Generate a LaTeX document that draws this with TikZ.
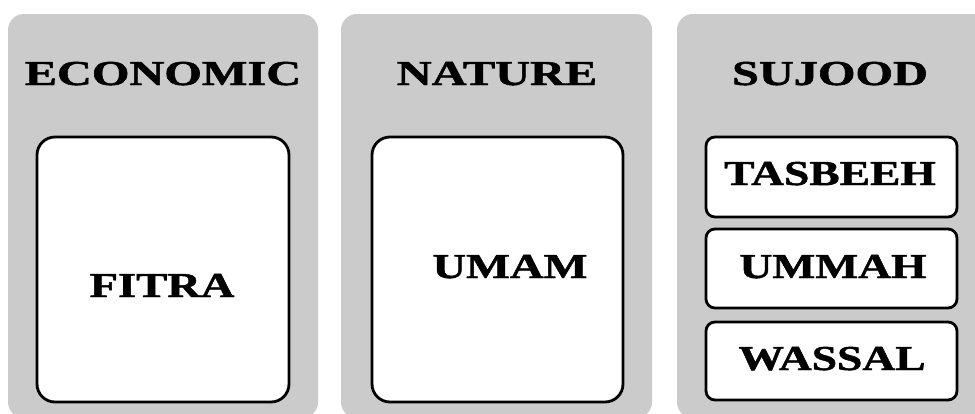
\documentclass[tikz,border=0pt]{standalone}
\usepackage{fontspec}
\setmainfont{Liberation Serif}[BoldFeatures={FakeBold=1.2}]
\definecolor{panelgrey}{HTML}{CBCBCB}
\newcommand{\stretchtxt}[2]{\scalebox{#1}[1]{#2}}
\begin{document}
\begin{tikzpicture}[x=1pt,y=-1pt,
  panel/.style={fill=panelgrey, draw=none, rounded corners=16pt},
  card/.style={fill=white, draw=black, line width=2.8pt, rounded corners=18pt},
  smallcard/.style={fill=white, draw=black, line width=2.8pt, rounded corners=9pt},
  lbl/.style={font=\fontsize{35}{40}\selectfont\bfseries, anchor=base, inner sep=0pt, text=black}]
\useasboundingbox (0,0) rectangle (975,413);
\clip (0,0) rectangle (975,413);
% panels
\fill[panel] (8,14) rectangle (318,418);
\fill[panel] (341,14) rectangle (652,418);
\fill[panel] (677,14) rectangle (992,418);
% titles
\node[lbl] (economic) at (163,85) {\stretchtxt{1.38}{ECONOMIC}};
\node[lbl] (nature) at (497,85) {\stretchtxt{1.38}{NATURE}};
\node[lbl] (sujood) at (830,85) {\stretchtxt{1.38}{SUJOOD}};
% cards
\draw[card] (37,137) rectangle (289,402);
\draw[card] (372,137) rectangle (623,402);
\draw[smallcard] (706,137) rectangle (957,217);
\draw[smallcard] (706,229) rectangle (957,308);
\draw[smallcard] (706,322) rectangle (957,400);
% card texts
\node[lbl] (fitra) at (162,297) {\stretchtxt{1.33}{FITRA}};
\node[lbl] (umam) at (510,278) {\stretchtxt{1.33}{UMAM}};
\node[lbl] (tasbeeh) at (830,185) {\stretchtxt{1.3}{TASBEEH}};
\node[lbl] (ummah) at (833,278) {\stretchtxt{1.3}{UMMAH}};
\node[lbl] (wassal) at (832,370) {\stretchtxt{1.3}{WASSAL}};
\end{tikzpicture}
\end{document}
